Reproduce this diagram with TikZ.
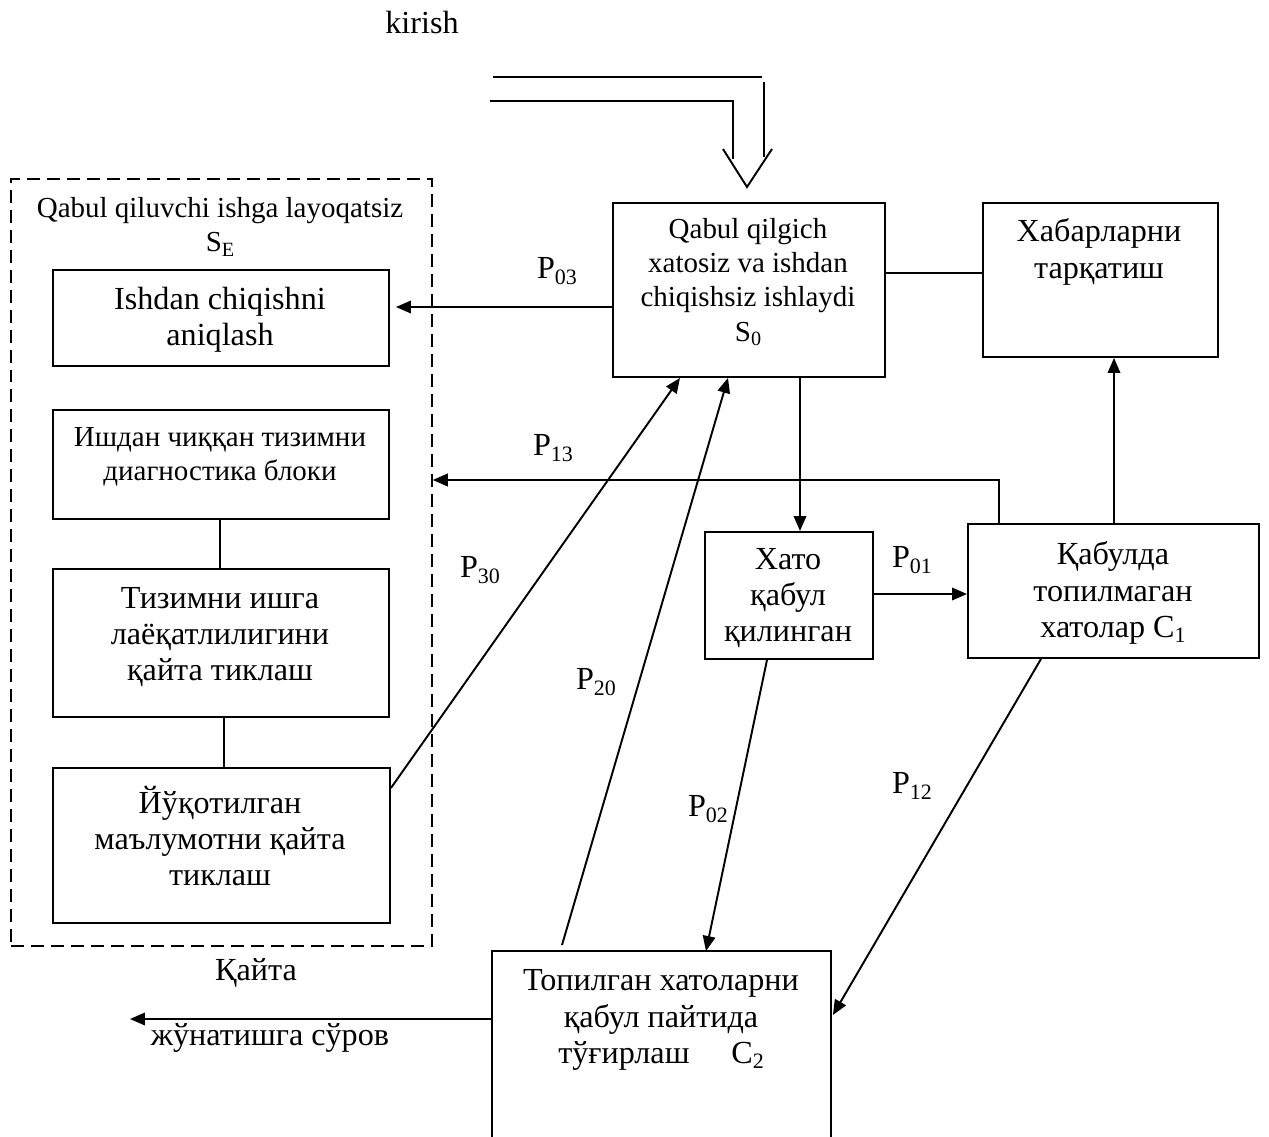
\documentclass[tikz,border=0pt]{standalone}
\usepackage{fontspec}
\setmainfont{Liberation Serif}
\usetikzlibrary{arrows.meta,calc}
\newcommand{\lowsub}[1]{\raisebox{-0.35ex}{\fontsize{12.5}{13}\selectfont #1}}
\newcommand{\lowsubs}[1]{\raisebox{-0.35ex}{\fontsize{11.5}{12}\selectfont #1}}
\begin{document}
\begin{tikzpicture}[x=0.02cm,y=-0.02cm,
  line width=1.1pt,
  >={Triangle[length=0.3cm,width=0.25cm]},
  box/.style 2 args={draw, rectangle, inner sep=0pt, anchor=north west,
    minimum width=#1*0.02cm, minimum height=#2*0.02cm},
  txt/.style={align=center, inner sep=0pt, font=\fontsize{18.3}{20.7}\selectfont},
  txts/.style={align=center, inner sep=0pt, font=\fontsize{16.5}{19.5}\selectfont},
  lbl/.style={inner sep=0pt, font=\fontsize{18.3}{20.7}\selectfont}]
\useasboundingbox (0,0) rectangle (1269,1137);

% input channel
\node[lbl] (kirish) at (422,22) {kirish};
\coordinate (inA) at (493,77);
\coordinate (inB) at (762,77);
\coordinate (inC) at (490,101);
\coordinate (inD) at (733,101);
\draw (inA) -- (inB);
\draw (764,82) -- (764,157);
\draw (inC) -- (inD) -- (733,159);
\draw (723,149) -- (747,187) -- (772,149);

% failure group
\node[box={421}{767}, dash pattern=on 0.26cm off 0.14cm, line width=1pt] (se) at (10,178) {};
\node[txts] (se-t) at (220,227) {Qabul qiluvchi ishga layoqatsiz\\S\lowsubs{E}};
\node[box={336}{96}] (A) at (52,269) {};
\node[txt] (A-t) at (220,320) {Ishdan chiqishni\\aniqlash};
\node[box={336}{109}] (B) at (52,409) {};
\node[txts] (B-t) at (220,457) {Ишдан чиққан тизимни\\диагностика блоки};
\node[box={336}{148}] (C) at (52,568) {};
\node[txt] (C-t) at (220,637) {Тизимни ишга\\лаёқатлилигини\\қайта тиклаш};
\node[box={337}{155}] (D) at (52,767) {};
\node[txt] (D-t) at (220,836) {Йўқотилган\\маълумотни қайта\\тиклаш};

% main states
\node[box={272}{174}] (s0) at (612,202) {};
\node[txts] (s0-t) at (748,282) {Qabul qilgich\\xatosiz va ishdan\\chiqishsiz ishlaydi\\S\lowsubs{0}};
\node[box={235}{154}] (hab) at (982,202) {};
\node[txt] (hab-t) at (1099,252) {Хабарларни\\тарқатиш};
\node[box={168}{127}] (xato) at (704,531) {};
\node[txt] (xato-t) at (788,598) {Хато\\қабул\\қилинган};
\node[box={291}{134}] (c1) at (967,523) {};
\node[txt] (c1-t) at (1113,593) {Қабулда\\топилмаган\\хатолар C\lowsub{1}};
\node[box={337}{200}, draw=none] (c2) at (492,951) {};
\draw (c2.south west) -- (c2.north west) -- (c2.north east) -- (c2.south east);
\node[txt] (c2-t) at (661,1020) {Топилган хатоларни\\қабул пайтида\\тўғирлаш\hspace{1.3em}C\lowsub{2}};

% connectors
\draw[->] ($(s0.north west)+(0,105)$) -- ($(A.north east)+(6,38)$);
\draw ($(s0.north east)+(0,71)$) -- ($(hab.north west)+(0,71)$);
\draw[->] ($(s0.south west)+(188,0)$) -- ($(xato.north west)+(96,0)$);
\draw[->] ($(xato.north east)+(0,63)$) -- ($(c1.north west)+(0,71)$);
\draw[->] ($(c1.north west)+(147,0)$) -- ($(hab.south west)+(132,0)$);
\draw[->] ($(c1.north west)+(32,0)$) |- ($(se.north east)+(0,302)$);
\draw[->] ($(D.north east)+(0,21)$) -- ($(s0.south west)+(68,0)$);
\draw[->] ($(c2.north west)+(70,-6)$) -- ($(s0.south west)+(116,0)$);
\draw[->] ($(xato.south west)+(63,0)$) -- ($(c2.north west)+(214,0)$);
\draw[->] ($(c1.south west)+(74,0)$) -- ($(c2.north east)+(2,64)$);
\coordinate (req) at (130,1019);
\draw[->] ($(c2.north west)+(0,68)$) -- (req);
\draw ($(B.south west)+(168,0)$) -- ($(C.north west)+(168,0)$);
\draw ($(C.south west)+(172,0)$) -- ($(D.north west)+(172,0)$);

% transition labels
\node[lbl] (p03) at (557,271) {P\lowsub{03}};
\node[lbl] (p13) at (553,448) {P\lowsub{13}};
\node[lbl] (p30) at (480,570) {P\lowsub{30}};
\node[lbl] (p20) at (596,682) {P\lowsub{20}};
\node[lbl] (p01) at (912,560) {P\lowsub{01}};
\node[lbl] (p02) at (708,809) {P\lowsub{02}};
\node[lbl] (p12) at (912,786) {P\lowsub{12}};
\node[lbl] (req-t1) at (256,973) {Қайта};
\node[lbl] (req-t2) at (270,1038) {жўнатишга сўров};
\end{tikzpicture}
\end{document}
